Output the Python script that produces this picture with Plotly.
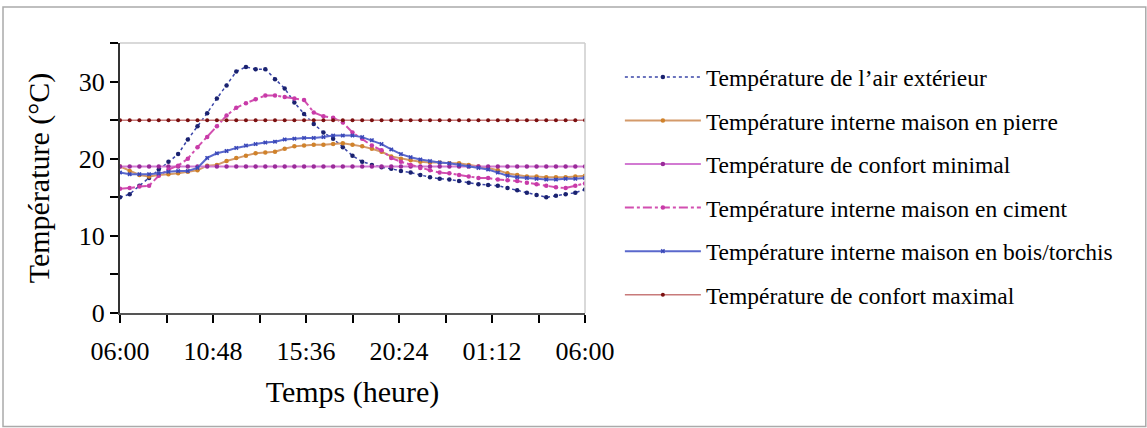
import plotly.graph_objects as go

hours = [i * 0.5 for i in range(49)]

t_ext = [15.0, 15.4, 16.5, 17.5, 18.6, 19.6, 20.6, 22.5, 24.2, 25.9, 27.8, 29.5, 31.3, 31.9,
         31.6, 31.6, 30.3, 29.1, 27.3, 25.8, 24.5, 23.4, 22.6, 21.5, 20.4, 19.6, 19.2, 18.9,
         18.7, 18.4, 18.2, 17.9, 17.6, 17.4, 17.3, 17.1, 16.9, 16.7, 16.6, 16.5, 16.2, 15.9,
         15.6, 15.3, 15.0, 15.2, 15.4, 15.6, 16.0]

t_pierre = [19.0, 18.4, 17.9, 17.7, 17.9, 18.0, 18.1, 18.3, 18.5, 19.1, 19.2, 19.7, 20.1, 20.4,
            20.7, 20.8, 20.9, 21.3, 21.6, 21.7, 21.8, 21.8, 21.9, 22.0, 21.8, 21.6, 21.3, 20.9,
            20.3, 20.0, 19.8, 19.6, 19.5, 19.5, 19.4, 19.4, 19.2, 19.0, 18.8, 18.5, 18.1, 17.9,
            17.7, 17.7, 17.6, 17.6, 17.6, 17.7, 17.8]

t_ciment = [16.1, 16.2, 16.4, 16.5, 17.8, 18.6, 19.1, 20.0, 21.5, 22.8, 24.2, 25.6, 26.6, 27.2,
            27.7, 28.2, 28.2, 28.0, 27.8, 27.6, 26.0, 25.5, 25.3, 24.7, 23.4, 22.6, 21.7, 21.1,
            20.1, 19.6, 19.2, 18.8, 18.5, 18.2, 18.1, 17.9, 17.7, 17.5, 17.5, 17.3, 17.2, 17.1,
            16.9, 16.7, 16.5, 16.3, 16.2, 16.5, 16.8]

t_bois = [18.2, 18.0, 18.0, 18.0, 18.1, 18.3, 18.4, 18.4, 18.8, 20.1, 20.7, 21.0, 21.4, 21.7,
          21.9, 22.1, 22.2, 22.5, 22.6, 22.7, 22.7, 22.8, 23.0, 23.0, 23.0, 22.8, 22.4, 21.9,
          21.2, 20.6, 20.2, 19.9, 19.7, 19.5, 19.4, 19.2, 19.0, 18.8, 18.6, 18.2, 17.8, 17.6,
          17.5, 17.4, 17.3, 17.3, 17.4, 17.4, 17.5]

confort_min = [19.0] * 49
confort_max = [25.0] * 49

names = ["Température de l’air extérieur",
         "Température interne maison en pierre",
         "Température de confort minimal",
         "Température interne maison en ciment",
         "Température interne maison en bois/torchis",
         "Température de confort maximal"]

tick_vals = [0, 2.4, 4.8, 7.2, 9.6, 12, 14.4, 16.8, 19.2, 21.6, 24]
tick_text = ["06:00", "", "10:48", "", "15:36", "", "20:24", "", "01:12", "", "06:00"]

fig = go.Figure()

fig.add_trace(go.Scatter(x=hours, y=t_ext, name=names[0], mode="lines+markers",
                         line=dict(color="#3a45a8", width=1.5, dash="dot"),
                         marker=dict(color="#1a2270", size=4.5), legendgroup="a"))
fig.add_trace(go.Scatter(x=hours, y=t_pierre, name=names[1], mode="lines+markers",
                         line=dict(color="#d49a6a", width=2),
                         marker=dict(color="#d0822a", size=4.5), legendgroup="b"))
fig.add_trace(go.Scatter(x=hours, y=confort_min, name=names[2], mode="lines+markers",
                         line=dict(color="#d27ad2", width=2),
                         marker=dict(color="#9a2a9a", size=4.5), legendgroup="c"))
fig.add_trace(go.Scatter(x=hours, y=t_ciment, name=names[3], mode="lines+markers",
                         line=dict(color="#d24fb0", width=2, dash="dashdot"),
                         marker=dict(color="#c83aa8", size=4.5), legendgroup="d"))
fig.add_trace(go.Scatter(x=hours, y=t_bois, name=names[4], mode="lines+markers",
                         line=dict(color="#5a68cc", width=2),
                         marker=dict(color="#3a48b8", size=4, symbol="x"), legendgroup="e"))
fig.add_trace(go.Scatter(x=hours, y=confort_max, name=names[5], mode="lines+markers",
                         line=dict(color="#c87a7a", width=1.5),
                         marker=dict(color="#7a1010", size=4), legendgroup="f"))

fig.update_layout(
    width=1147, height=428,
    margin=dict(l=120, r=562, t=43, b=115),
    paper_bgcolor="white", plot_bgcolor="white",
    font=dict(family="Liberation Serif", color="black"),
    showlegend=True,
    legend=dict(x=1.075, y=0.955, xanchor="left", yanchor="top",
                font=dict(size=23.5, family="Liberation Serif"),
                itemwidth=76, tracegroupgap=10, bgcolor="rgba(0,0,0,0)"),
    xaxis=dict(range=[0, 24], tickvals=tick_vals, ticktext=tick_text,
               ticks="outside", ticklen=8, tickwidth=1.5, tickcolor="black",
               showline=True, linecolor="#555", linewidth=1.5, showgrid=False,
               zeroline=False, tickfont=dict(size=26), ticklabelstandoff=6,
               title=dict(text="Temps (heure)", font=dict(size=30), standoff=16)),
    yaxis=dict(range=[0, 35], tickvals=[0, 5, 10, 15, 20, 25, 30, 35],
               ticktext=["0", "", "10", "", "20", "", "30", ""],
               ticks="outside", ticklen=8, tickwidth=1.5, tickcolor="black",
               showline=True, linecolor="#333", linewidth=2, showgrid=False,
               zeroline=False, tickfont=dict(size=26),
               title=dict(text="Température (°C)", font=dict(size=30), standoff=20)),
    shapes=[
        dict(type="line", xref="paper", yref="paper", x0=0, x1=1, y0=1, y1=1,
             line=dict(color="#cccccc", width=1.5)),
        dict(type="line", xref="paper", yref="paper", x0=1, x1=1, y0=0, y1=1,
             line=dict(color="#cccccc", width=1.5)),
        dict(type="rect", xref="paper", yref="paper", x0=-0.2516, x1=2.206,
             y0=-0.42, y1=1.1333, line=dict(color="#aaaaaa", width=1.5), layer="below"),
    ],
)

fig.write_html("out.html", config={"displayModeBar": False},
               post_script="document.body.style.margin='0';")
